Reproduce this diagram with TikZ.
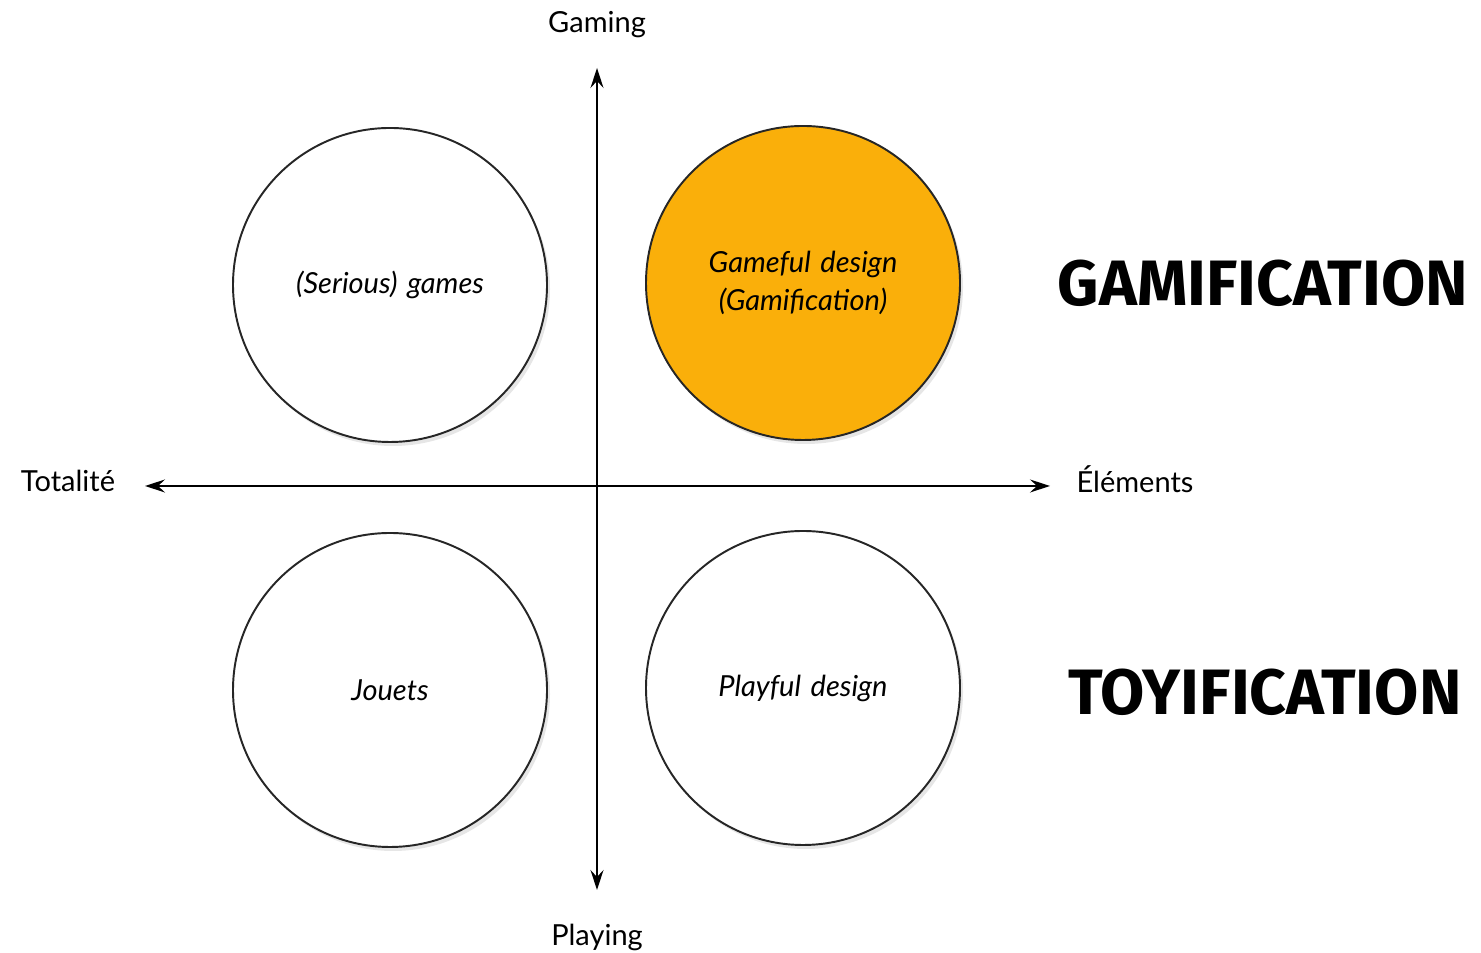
\documentclass[tikz,border=0pt]{standalone}
\usepackage{fontspec}
\setmainfont{Lato}
\newfontfamily\bigfont{Fira Sans}
\usetikzlibrary{shadows,arrows.meta}
\definecolor{gameorange}{RGB}{250,175,10}

\begin{document}
\begin{tikzpicture}[
            every node/.style={inner sep=0.1em, text centered, font=\fontsize{16.5}{19}\selectfont}
        ]
        \tikzstyle {quad_circ} = [circle, draw=black!85, line width=1.1pt, fill=white, minimum size=6.28cm,
                                  font=\fontsize{16.5}{22}\selectfont\itshape, text width=5.4cm,
                                  drop shadow={opacity=0.2, shadow xshift=0.06cm, shadow yshift=-0.08cm}]
        \tikzstyle {big_label} = [font=\bigfont\bfseries\fontsize{36.5}{40}\selectfont]
        \tikzstyle {axis} = [thick, {Stealth[length=4mm, width=2.6mm, inset=1.4mm]}-{Stealth[length=4mm, width=2.6mm, inset=1.4mm]}]

        \useasboundingbox (0,0) rectangle (29.62,19.06);

        \node [quad_circ] (serious) at (7.8,13.36) {(Serious) games};
        \node [quad_circ, fill=gameorange] (gameful) at (16.06,13.4) {Gameful design\\(Gamification)};
        \node [quad_circ] (jouets) at (7.8,5.26) {Jouets};
        \node [quad_circ] (playful) at (16.06,5.3) {Playful design};

        \node (gaming) at (11.94,18.56) {Gaming};
        \node (playing) at (11.94,0.32) {Playing};
        \node (totalite) at (1.36,9.44) {Totalité};
        \node (elements) at (22.7,9.48) {Éléments};

        \coordinate (top) at (11.94,17.7);
        \coordinate (bottom) at (11.94,1.26);
        \coordinate (left) at (2.9,9.34);
        \coordinate (right) at (21.0,9.34);

        \node [big_label] (gamif) at (25.26,13.4) {GAMIFICATION};
        \node [big_label] (toyif) at (25.3,5.22) {TOYIFICATION};

        \draw [axis] (bottom) -- (top);
        \draw [axis] (left) -- (right);

\end{tikzpicture}
\end{document}
